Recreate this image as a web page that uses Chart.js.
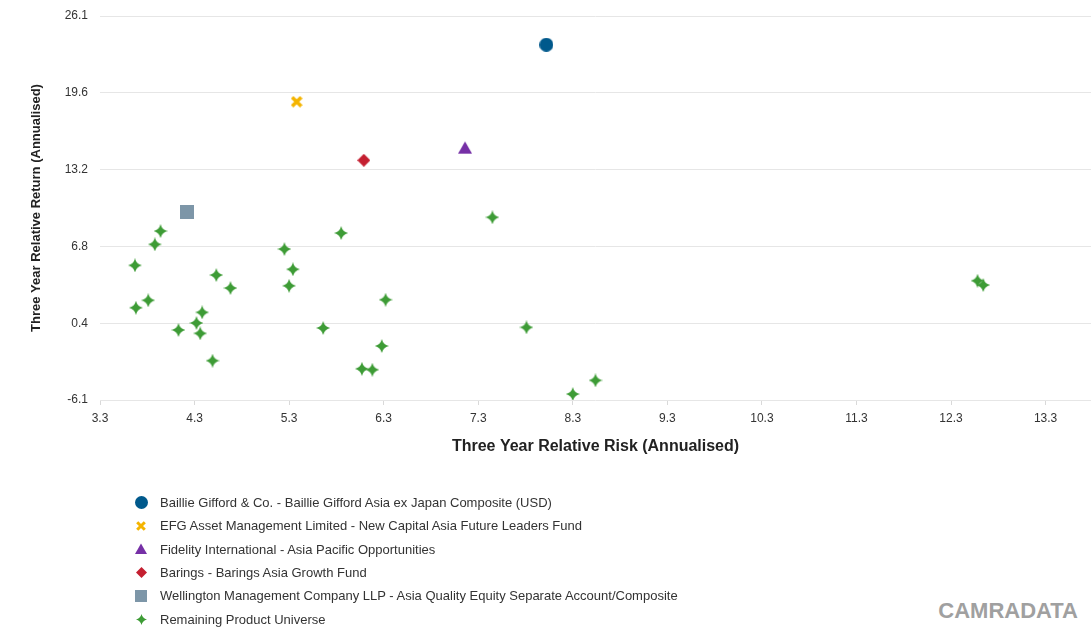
<!DOCTYPE html>
<html>
<head>
<meta charset="utf-8">
<script src="https://cdn.jsdelivr.net/npm/chart.js@4/dist/chart.umd.min.js"></script>
<style>
  body { margin: 0; background: #fff; font-family: "Liberation Sans", Arial, sans-serif; }
  #wrap { position: relative; width: 1091px; height: 634px; }
  #box { position: absolute; left: 0; top: 0; width: 1091px; height: 470px; }
  #legend { position: absolute; left: 133px; top: 491px; font-size: 13px; color: #333; }
  .item { height: 23.3px; display: flex; align-items: center; white-space: nowrap; }
  .slot { width: 16px; height: 16px; margin-right: 11px; display: flex; align-items: center; justify-content: center; }
  #brand { position: absolute; right: 13px; top: 598px; font: bold 22px "Liberation Sans", Arial, sans-serif; color: #a0a0a0; }
</style>
</head>
<body>
<div id="wrap">
  <div id="box"><canvas id="myChart"></canvas></div>
  <div id="legend"></div>
  <div id="brand">CAMRADATA</div>
</div>
<script>
  // fund points: risk (x) and return (y)
  var baillieRisk = [8.02], baillieReturn = [23.69];
  var efgRisk = [5.38], efgReturn = [18.91];
  var fidelityRisk = [7.16], fidelityReturn = [15.06];
  var baringsRisk = [6.09], baringsReturn = [14.0];
  var wellingtonRisk = [4.22], wellingtonReturn = [9.69];
  var remainingRisk = [3.94, 3.88, 3.67, 3.68, 3.81, 4.13, 4.32, 4.38, 4.36, 4.49, 4.53, 4.68, 5.25, 5.34,
                       5.30, 5.85, 5.66, 6.32, 6.28, 6.07, 6.18, 7.45, 7.81, 8.54, 8.30, 12.58, 12.64];
  var remainingReturn = [8.07, 6.95, 5.19, 1.64, 2.26, -0.23, 0.36, 1.25, -0.51, -2.80, 4.38, 3.29, 6.56, 4.86,
                         3.48, 7.90, -0.06, 2.31, -1.57, -3.48, -3.56, 9.22, -0.01, -4.45, -5.60, 3.90, 3.54];

  var names = [
    "Baillie Gifford & Co. - Baillie Gifford Asia ex Japan Composite (USD)",
    "EFG Asset Management Limited - New Capital Asia Future Leaders Fund",
    "Fidelity International - Asia Pacific Opportunities",
    "Barings - Barings Asia Growth Fund",
    "Wellington Management Company LLP - Asia Quality Equity Separate Account/Composite",
    "Remaining Product Universe"
  ];
  var xTickLabels = ["3.3", "4.3", "5.3", "6.3", "7.3", "8.3", "9.3", "10.3", "11.3", "12.3", "13.3"];
  var yTickLabels = ["-6.1", "0.4", "6.8", "13.2", "19.6", "26.1"];
  var yMin = -6.1, yMax = 26.1;

  var colors = ["#00598c", "#f4b400", "#7630a6", "#c41f30", "#7d96a8", "#3e9c36"];
  var shapes = ["circle", "cross", "triangle", "diamond", "square", "star"];
  var sizes = [14, 12, 14, 13, 14, 14];
  var legendSizes = [13, 10, 12, 11, 12, 11];

  function marker(shape, color, s) {
    var c = document.createElement('canvas');
    c.width = s; c.height = s;
    var g = c.getContext('2d');
    var m = s / 2;
    g.fillStyle = color; g.strokeStyle = color;
    g.beginPath();
    if (shape == "circle") {
      g.arc(m, m, m, 0, Math.PI * 2);
    } else if (shape == "cross") {
      g.lineWidth = s * 0.3;
      g.moveTo(s * 0.12, s * 0.12); g.lineTo(s * 0.88, s * 0.88);
      g.moveTo(s * 0.88, s * 0.12); g.lineTo(s * 0.12, s * 0.88);
      g.stroke();
      return c;
    } else if (shape == "triangle") {
      g.moveTo(m, s * 0.05); g.lineTo(s, s * 0.92); g.lineTo(0, s * 0.92);
    } else if (shape == "diamond") {
      g.moveTo(m, 0); g.lineTo(s, m); g.lineTo(m, s); g.lineTo(0, m);
    } else if (shape == "square") {
      g.rect(0, 0, s, s);
    } else if (shape == "star") {
      // four points with curved, fairly full sides
      g.moveTo(m, 0);
      var q = m * 0.38;
      g.quadraticCurveTo(m + q * 0.5, m - q * 0.5, s, m);
      g.quadraticCurveTo(m + q * 0.5, m + q * 0.5, m, s);
      g.quadraticCurveTo(m - q * 0.5, m + q * 0.5, 0, m);
      g.quadraticCurveTo(m - q * 0.5, m - q * 0.5, m, 0);
      g.closePath();
      g.fill();
      g.beginPath();
      g.arc(m, m, m * 0.34, 0, Math.PI * 2);
    }
    g.closePath();
    g.fill();
    return c;
  }

  function pts(xs, ys) {
    return xs.map(function (v, i) { return { x: v, y: ys[i] }; });
  }

  var allX = [baillieRisk, efgRisk, fidelityRisk, baringsRisk, wellingtonRisk, remainingRisk];
  var allY = [baillieReturn, efgReturn, fidelityReturn, baringsReturn, wellingtonReturn, remainingReturn];

  // draw the remaining universe first so the named funds sit on top
  var datasets = [];
  for (var i = 5; i >= 0; i--) {
    datasets.push({
      label: names[i],
      data: pts(allX[i], allY[i]),
      pointStyle: marker(shapes[i], colors[i], sizes[i]),
      backgroundColor: colors[i],
      borderColor: colors[i]
    });
  }

  Chart.defaults.font.family = '"Liberation Sans", Arial, sans-serif';

  var chart = new Chart(document.getElementById("myChart"), {
    type: "scatter",
    data: { datasets: datasets },
    options: {
      responsive: true,
      maintainAspectRatio: false,
      animation: false,
      layout: { autoPadding: false, padding: { top: 16, right: 0, bottom: 0, left: 0 } },
      plugins: { legend: { display: false }, tooltip: { enabled: false } },
      scales: {
        x: {
          type: "linear", min: 3.3, max: 13.78,
          afterBuildTicks: function (s) { s.ticks = xTickLabels.map(function (t) { return { value: parseFloat(t) }; }); },
          afterFit: function (s) { s.height = 70; s.paddingLeft = 0; s.paddingRight = 0; },
          ticks: {
            callback: function (v, i) { return xTickLabels[i]; },
            color: "#333", font: { size: 12 }, padding: 6, maxRotation: 0, autoSkip: false
          },
          grid: { drawOnChartArea: false, drawTicks: true, tickLength: 5, color: "#d9d9d9" },
          border: { display: false },
          title: {
            display: true, text: "Three Year Relative Risk (Annualised)",
            color: "#222", font: { size: 16, weight: "bold" }, padding: { top: 4, bottom: 14 }
          }
        },
        y: {
          type: "linear", min: yMin, max: yMax,
          afterBuildTicks: function (s) {
            s.ticks = yTickLabels.map(function (t, i) { return { value: yMin + i * (yMax - yMin) / 5 }; });
          },
          afterFit: function (s) { s.width = 100; s.paddingTop = 0; s.paddingBottom = 0; },
          ticks: {
            callback: function (v, i) { return yTickLabels[i]; },
            color: "#333", font: { size: 12 }, padding: 12, autoSkip: false
          },
          grid: { color: "#e6e6e6", drawTicks: false },
          border: { display: false },
          title: {
            display: true, text: "Three Year Relative Return (Annualised)",
            color: "#222", font: { size: 13, weight: "bold" }, padding: { top: 29, bottom: 0 }
          }
        }
      }
    }
  });

  var legend = document.getElementById("legend");
  names.forEach(function (n, i) {
    var row = document.createElement("div");
    row.className = "item";
    var slot = document.createElement("div");
    slot.className = "slot";
    slot.appendChild(marker(shapes[i], colors[i], legendSizes[i]));
    var txt = document.createElement("span");
    txt.textContent = n;
    row.appendChild(slot);
    row.appendChild(txt);
    legend.appendChild(row);
  });
</script>
</body>
</html>
